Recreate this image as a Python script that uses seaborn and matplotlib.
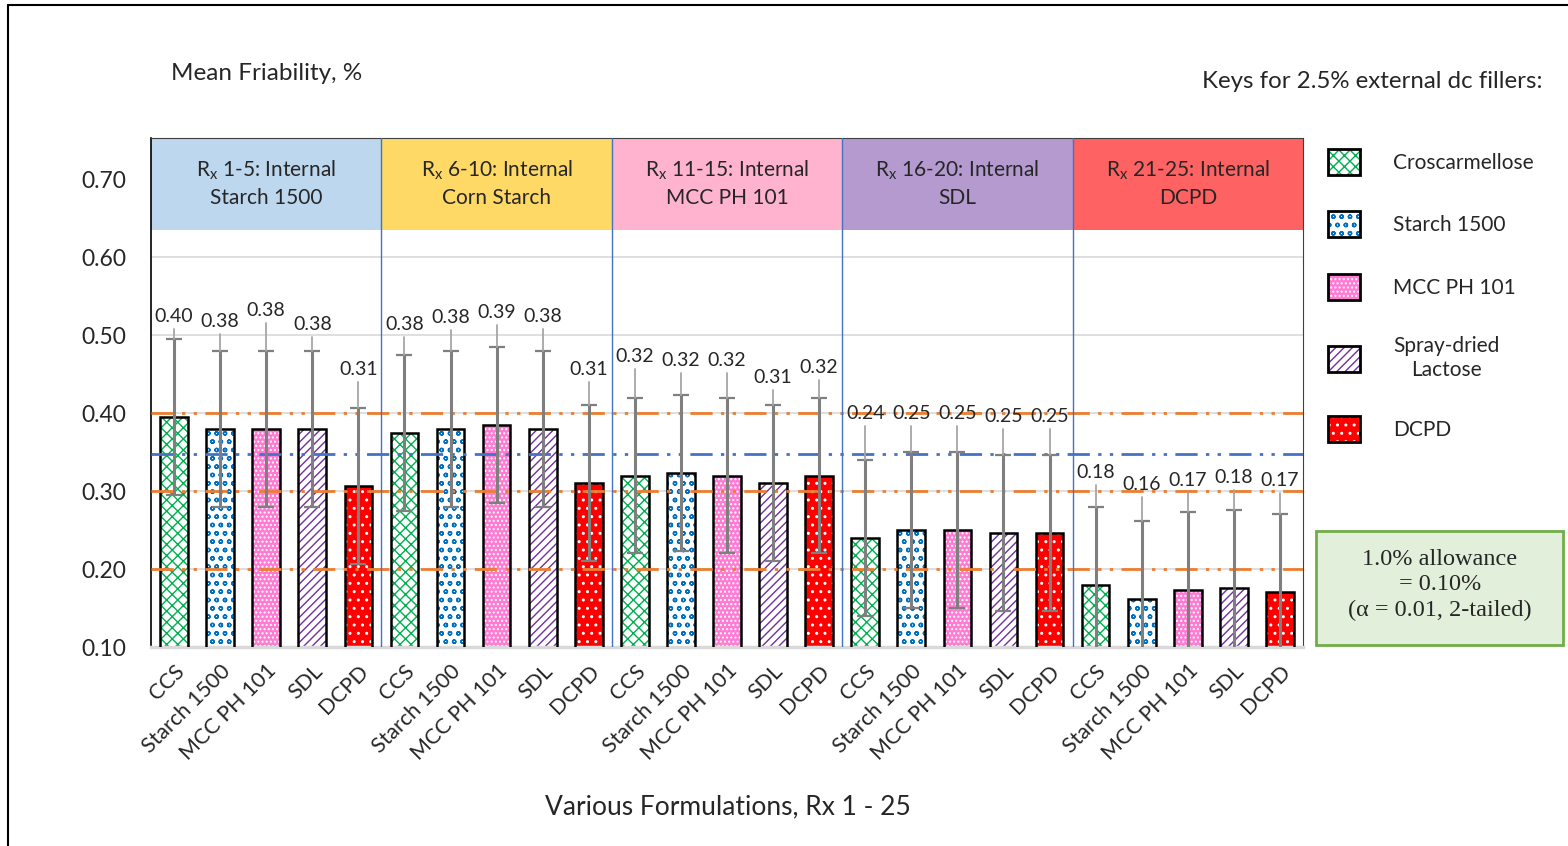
import numpy as np
import pandas as pd
import matplotlib
matplotlib.use('Agg')
import matplotlib.pyplot as plt
from matplotlib.patches import Patch, Rectangle
import seaborn as sns

# ==========================================
# DATA
# ==========================================
fillers = ['CCS', 'Starch 1500', 'MCC PH 101', 'SDL', 'DCPD']
legend_names = ['Croscarmellose', 'Starch 1500', 'MCC PH 101', 'Spray-dried\nLactose', 'DCPD']
group_titles = [
    r'$\mathregular{R_x}$ 1-5: Internal' + '\nStarch 1500',
    r'$\mathregular{R_x}$ 6-10: Internal' + '\nCorn Starch',
    r'$\mathregular{R_x}$ 11-15: Internal' + '\nMCC PH 101',
    r'$\mathregular{R_x}$ 16-20: Internal' + '\nSDL',
    r'$\mathregular{R_x}$ 21-25: Internal' + '\nDCPD',
]
group_colors = ['#BDD7EE', '#FFD966', '#FFB3CF', '#B49ACF', '#FF6262']

mean_friability = [0.395, 0.380, 0.380, 0.380, 0.306,
                   0.375, 0.380, 0.385, 0.380, 0.310,
                   0.320, 0.323, 0.320, 0.310, 0.320,
                   0.240, 0.250, 0.250, 0.246, 0.246,
                   0.180, 0.162, 0.173, 0.176, 0.170]
error_half = [0.10] * 25
# where the value labels sit (they were placed by hand in the original)
label_y = [0.524, 0.518, 0.532, 0.514, 0.456,
           0.514, 0.523, 0.529, 0.524, 0.456,
           0.473, 0.467, 0.468, 0.446, 0.458,
           0.400, 0.399, 0.399, 0.396, 0.396,
           0.324, 0.308, 0.313, 0.318, 0.313]

allowance_levels = [0.40, 0.30, 0.20]
grand_mean = 0.347

fill_colors = {'CCS': 'white', 'Starch 1500': 'white', 'MCC PH 101': '#FF7AD2',
               'SDL': 'white', 'DCPD': '#FF0000'}
hatch_colors = {'CCS': '#00B050', 'Starch 1500': '#0070C0', 'MCC PH 101': 'white',
                'SDL': '#7030A0', 'DCPD': 'white'}
hatches = {'CCS': 'xxx', 'Starch 1500': 'oo', 'MCC PH 101': '....',
           'SDL': '////', 'DCPD': '..'}

rx = [str(i) for i in range(1, 26)]
df = pd.DataFrame({'rx': rx, 'filler': fillers * 5, 'friability': mean_friability})

# ==========================================
# PLOT
# ==========================================
sns.set_style('white')
plt.rcParams['font.family'] = ['Lato', 'DejaVu Sans']
plt.rcParams['hatch.linewidth'] = 1.0

fig = plt.figure(figsize=(15.68, 8.46), dpi=100)
ax = fig.add_axes([151 / 1568, 1 - 647 / 846, (1303 - 151) / 1568, (647 - 138) / 846])

sns.barplot(data=df, x='rx', y='friability', hue='filler', order=rx, hue_order=fillers,
            palette=fill_colors, dodge=False, width=0.6, saturation=1,
            errorbar=None, legend=False, ax=ax)

for p in list(ax.patches):
    i = int(round(p.get_x() + p.get_width() / 2))
    f = fillers[i % 5]
    p.set_hatch(hatches[f])
    p.set_edgecolor(hatch_colors[f])
    p.set_linewidth(0)
    p.set_zorder(2)

xpos = np.arange(25)
# black outline on top of the hatched fill
ax.bar(xpos, mean_friability, width=0.6, fill=False, edgecolor='black', linewidth=1.8, zorder=3)

# header boxes for each internal-filler group
for g in range(5):
    ax.add_patch(Rectangle((g * 5 - 0.5, 0.635), 5, 0.118, facecolor=group_colors[g],
                           edgecolor='none', zorder=1))
    ax.text(g * 5 + 2, 0.695, group_titles[g], ha='center', va='center', fontsize=15,
            linespacing=1.4, zorder=6)

# grid
for yv in np.arange(0.1, 0.71, 0.1):
    ax.axhline(yv, color='#D9D9D9', lw=1.2, zorder=0.5)

# group separators
for xs in [4.5, 9.5, 14.5, 19.5]:
    ax.axvline(xs, color='#4472C4', lw=1, zorder=5)

# allowance bands and grand mean
for lv in allowance_levels:
    ax.axhline(lv, color='#ED7D31', lw=2, dashes=(8, 3, 1.2, 3, 1.2, 3), zorder=4)
ax.axhline(grand_mean, color='#4472C4', lw=2, dashes=(8, 3, 1.2, 3, 1.2, 3), zorder=4)

# error bars
ax.errorbar(xpos, mean_friability, yerr=error_half, fmt='none', ecolor='#7F7F7F',
            elinewidth=2.2, capsize=6, capthick=1.6, zorder=5)

# value labels with leader lines
for i in range(25):
    top = mean_friability[i] + error_half[i]
    ax.plot([xpos[i], xpos[i]], [top, label_y[i] - 0.016], color='#A6A6A6', lw=1.3, zorder=5)
    ax.text(xpos[i], label_y[i], f'{mean_friability[i]:.2f}', ha='center', va='center',
            fontsize=14, zorder=6)

ax.set_xlim(-0.5, 24.5)
ax.set_ylim(0.10, 0.753)
ax.set_yticks(np.arange(0.1, 0.71, 0.1))
ax.set_yticklabels([f'{v:.2f}' for v in np.arange(0.1, 0.71, 0.1)], fontsize=16.5)
ax.set_xticks(xpos)
ax.set_xticklabels(fillers * 5, rotation=45, ha='right', rotation_mode='anchor', fontsize=15.5)
ax.tick_params(axis='y', length=0, pad=18)
ax.tick_params(axis='x', length=0, pad=10)
ax.set_xlabel('')
ax.set_ylabel('')

ax.spines['left'].set_color('black')
ax.spines['left'].set_linewidth(1.2)
ax.spines['top'].set_color('#404040')
ax.spines['right'].set_color('#404040')
ax.spines['bottom'].set_color('#D9D9D9')
ax.spines['bottom'].set_linewidth(2.5)

# titles
fig.text(171 / 1568, 1 - 74 / 846, 'Mean Friability, %', ha='left', va='center', fontsize=17.5)
fig.text(1543 / 1568, 1 - 82 / 846, 'Keys for 2.5% external dc fillers:', ha='right',
         va='center', fontsize=17.3)
fig.text(728 / 1568, 1 - 807 / 846, 'Various Formulations, Rx 1 - 25', ha='center',
         va='center', fontsize=19)

# legend
handles = [(Patch(facecolor=fill_colors[f], edgecolor=hatch_colors[f], hatch=hatches[f], lw=0),
            Patch(fill=False, edgecolor='black', lw=2)) for f in fillers]
leg = fig.legend(handles, legend_names, loc='upper left',
                 bbox_to_anchor=(1309 / 1568, 1 - 130 / 846), frameon=False, fontsize=15,
                 handlelength=1.55, handleheight=1.55, handletextpad=1.6, labelspacing=1.75)
for t in leg.get_texts():
    t.set_multialignment('center')

# allowance note
fig.patches.append(Rectangle((1316 / 1568, 1 - 645 / 846), 247 / 1568, 114 / 846,
                             transform=fig.transFigure, facecolor='#E2EFDA',
                             edgecolor='#70AD47', lw=2))
fig.text(1440 / 1568, 1 - 585 / 846, '1.0% allowance\n= 0.10%\n(\u03b1 = 0.01, 2-tailed)',
         ha='center', va='center', fontsize=17.5, family='Liberation Serif', linespacing=1.25)

# outer frame lines
fig.add_artist(plt.Line2D([8 / 1568, 8 / 1568], [0, 1 - 5 / 846], transform=fig.transFigure,
                          color='black', lw=1.5))
fig.add_artist(plt.Line2D([8 / 1568, 1], [1 - 5 / 846, 1 - 5 / 846], transform=fig.transFigure,
                          color='black', lw=1.5))

fig.savefig('out.png', dpi=100)
